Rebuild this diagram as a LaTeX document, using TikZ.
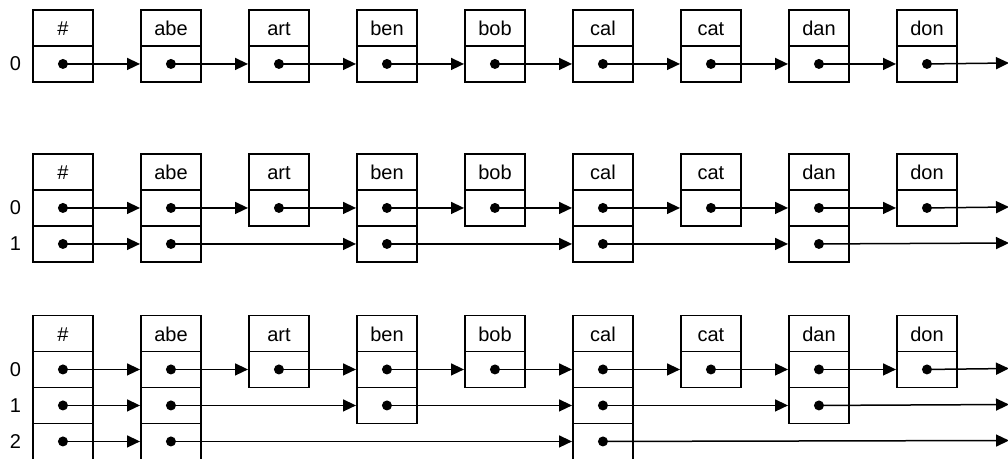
\documentclass[tikz,border=0pt]{standalone}
\usepackage{fontspec}
\setmainfont{Liberation Sans}
\usetikzlibrary{arrows.meta}
\begin{document}
\begin{tikzpicture}[x=1pt,y=-1pt,
  cell/.style={draw, line width=1.9pt, minimum width=60pt, minimum height=36pt, inner sep=0pt, anchor=north west, font=\fontsize{20}{23}\selectfont, text height=15.5pt, text depth=0pt},
  lbl/.style={font=\fontsize{20}{23}\selectfont, inner sep=0pt, text height=15pt, text depth=0pt},
  link/.style={line width=1.5pt, -{Triangle[length=13pt,width=12pt]}},
  dotmark/.style={fill=black}]
\useasboundingbox (0,0) rectangle (1008,458);
% ---------- headers ----------
\foreach \s/\T in {1/9,2/153,3/314.5}{
  \foreach \k/\t in {0/\#,1/abe,2/art,3/ben,4/bob,5/cal,6/cat,7/dan,8/don}{
    \node[cell] (h\s-\k) at ({32+108*\k},\T) {\t};
  }
}
% ---------- cells ----------
% section 1
\foreach \k in {0,...,8}{ \node[cell] (c1-0-\k) at ({32+108*\k},45) {}; }
% section 2
\foreach \k in {0,...,8}{ \node[cell] (c2-0-\k) at ({32+108*\k},189) {}; }
\foreach \k in {0,1,3,5,7}{ \node[cell] (c2-1-\k) at ({32+108*\k},225) {}; }
% section 3
\foreach \k in {0,...,8}{ \node[cell] (c3-0-\k) at ({32+108*\k},350.5) {}; }
\foreach \k in {0,1,3,5,7}{ \node[cell] (c3-1-\k) at ({32+108*\k},386.5) {}; }
\foreach \k in {0,1,5}{ \node[cell] (c3-2-\k) at ({32+108*\k},422.5) {}; }
% ---------- row labels ----------
\node[lbl] (l1-0) at (15.5,63) {0};
\node[lbl] (l2-0) at (15.5,207) {0};
\node[lbl] (l2-1) at (15.5,243) {1};
\node[lbl] (l3-0) at (15.5,368.5) {0};
\node[lbl] (l3-1) at (15.5,404.5) {1};
\node[lbl] (l3-2) at (15.5,440.5) {2};
% ---------- end points ----------
\coordinate (e1-0) at (1009,63);
\coordinate (e2-0) at (1009,207);
\coordinate (e2-1) at (1009,243);
\coordinate (e3-0) at (1009,368.5);
\coordinate (e3-1) at (1009,404.5);
\coordinate (e3-2) at (1009,440.5);
% ---------- links ----------
\foreach \s in {1,2,3}{
  \foreach \a/\b in {0/1,1/2,2/3,3/4,4/5,5/6,6/7,7/8}{
    \draw[link] (c\s-0-\a.center) -- (c\s-0-\b.west);
  }
  \draw[link] (c\s-0-8.center) -- (e\s-0);
}
\foreach \s in {2,3}{
  \foreach \a/\b in {0/1,1/3,3/5,5/7}{
    \draw[link] (c\s-1-\a.center) -- (c\s-1-\b.west);
  }
  \draw[link] (c\s-1-7.center) -- (e\s-1);
}
\foreach \a/\b in {0/1,1/5}{
  \draw[link] (c3-2-\a.center) -- (c3-2-\b.west);
}
\draw[link] (c3-2-5.center) -- (e3-2);
% ---------- dots ----------
\foreach \k in {0,...,8}{
  \fill[dotmark] (c1-0-\k.center) circle (5);
  \fill[dotmark] (c2-0-\k.center) circle (5);
  \fill[dotmark] (c3-0-\k.center) circle (5);
}
\foreach \k in {0,1,3,5,7}{
  \fill[dotmark] (c2-1-\k.center) circle (5);
  \fill[dotmark] (c3-1-\k.center) circle (5);
}
\foreach \k in {0,1,5}{
  \fill[dotmark] (c3-2-\k.center) circle (5);
}
\end{tikzpicture}
\end{document}
